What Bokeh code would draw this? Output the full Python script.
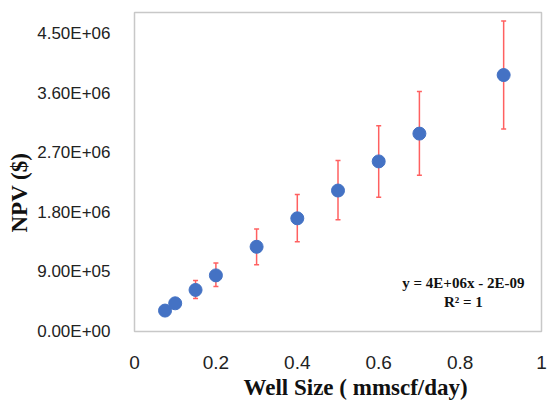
from bokeh.plotting import figure
from bokeh.models import ColumnDataSource, Whisker, TeeHead, Label, FixedTicker, Range1d, Title
from bokeh.embed import file_html
from bokeh.resources import INLINE

# Data
well_size = [0.075, 0.1, 0.15, 0.2, 0.3, 0.4, 0.5, 0.6, 0.7, 0.907]
npv = [0.316e6, 0.426e6, 0.628e6, 0.848e6, 1.28e6, 1.71e6, 2.13e6, 2.57e6, 2.99e6, 3.875e6]
err_upper = [0.33e6, 0.45e6, 0.77e6, 1.035e6, 1.55e6, 2.07e6, 2.585e6, 3.11e6, 3.625e6, 4.69e6]
err_lower = [0.30e6, 0.40e6, 0.50e6, 0.68e6, 1.01e6, 1.355e6, 1.69e6, 2.03e6, 2.36e6, 3.06e6]

y_ticks = [0, 0.9e6, 1.8e6, 2.7e6, 3.6e6, 4.5e6]
y_tick_labels = ["0.00E+00", "9.00E+05", "1.80E+06", "2.70E+06", "3.60E+06", "4.50E+06"]
x_ticks = [0, 0.2, 0.4, 0.6, 0.8, 1.0]
x_tick_labels = ["0", "0.2", "0.4", "0.6", "0.8", "1"]

x_title = "Well Size ( mmscf/day)"
y_title = "NPV ($)"
equation = "y = 4E+06x - 2E-09"
r_squared = "R² = 1"

src = ColumnDataSource(dict(x=well_size, y=npv, upper=err_upper, lower=err_lower))

p = figure(width=547, height=407, output_backend="svg", toolbar_location=None,
           x_range=Range1d(0, 1), y_range=Range1d(0, 4.82e6),
           min_border_left=134, min_border_right=6, min_border_top=12, min_border_bottom=76)

p.background_fill_color = "white"
p.border_fill_color = "white"
p.outline_line_color = "#c8c8c8"
p.outline_line_width = 1.5
p.xgrid.visible = False
p.ygrid.visible = False

red = "#ff6060"
whisk = Whisker(source=src, base="x", upper="upper", lower="lower",
                line_color=red, line_width=1.5,
                upper_head=TeeHead(size=5, line_color=red, line_width=1.5),
                lower_head=TeeHead(size=5, line_color=red, line_width=1.5))
p.add_layout(whisk)

p.scatter("x", "y", source=src, size=13, fill_color="#4472C4", line_color="#4472C4")

for ax in (p.xaxis[0], p.yaxis[0]):
    ax.axis_line_color = None
    ax.major_tick_line_color = None
    ax.minor_tick_line_color = None
    ax.major_label_text_color = "#222222"
    ax.major_label_text_font = "Liberation Sans"

p.xaxis.ticker = FixedTicker(ticks=x_ticks)
p.xaxis.major_label_overrides = {t: l for t, l in zip(x_ticks, x_tick_labels)}
p.xaxis.major_label_text_font_size = "19px"
p.xaxis.major_label_standoff = 18

p.yaxis.ticker = FixedTicker(ticks=y_ticks)
p.yaxis.major_label_overrides = {t: l for t, l in zip(y_ticks, y_tick_labels)}
p.yaxis.major_label_text_font_size = "17px"
p.yaxis.major_label_standoff = 18

title_style = dict(text_font="Liberation Serif", text_font_style="bold",
                   text_font_size="23px", text_color="#111111", align="left")
p.add_layout(Title(text=x_title, offset=109, standoff=2, **title_style), "below")
p.add_layout(Title(text=y_title, offset=99, standoff=6, **title_style), "left")

for txt, yv in ((equation, 0.74e6), (r_squared, 0.44e6)):
    p.add_layout(Label(x=0.808, y=yv, text=txt, text_align="center", text_baseline="middle",
                       text_font="Liberation Serif", text_font_style="bold",
                       text_font_size="15px", text_color="#111111"))

open("out.html", "w").write(file_html(p, INLINE))
